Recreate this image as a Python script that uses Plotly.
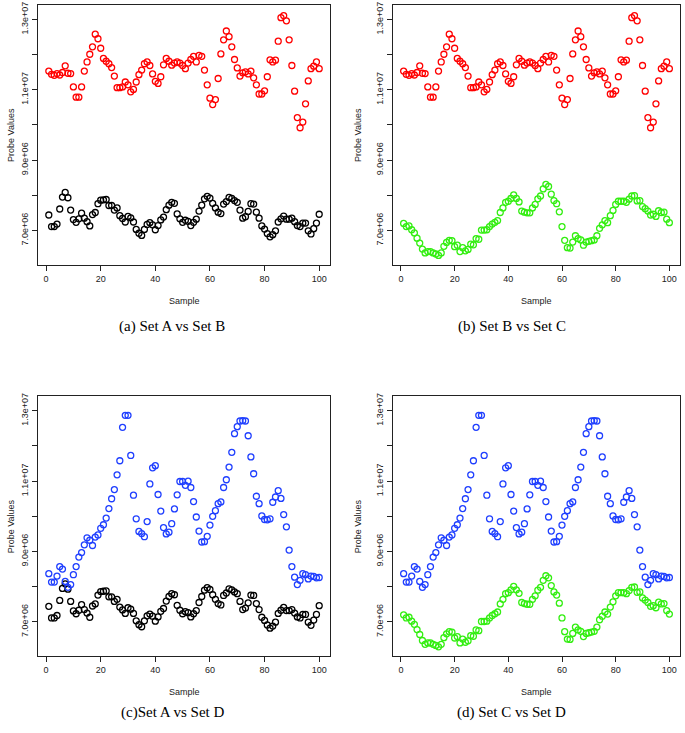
import plotly.graph_objects as go
from plotly.subplots import make_subplots

sample = list(range(1, 101))

set_a = [7.44, 7.11, 7.11, 7.18, 7.61, 7.95, 8.08, 7.93, 7.58, 7.31,
         7.23, 7.33, 7.49, 7.35, 7.25, 7.13, 7.45, 7.51, 7.76, 7.86,
         7.87, 7.88, 7.71, 7.71, 7.58, 7.64, 7.42, 7.34, 7.24, 7.40,
         7.36, 7.24, 7.03, 6.92, 6.86, 7.03, 7.17, 7.22, 7.16, 7.02,
         7.14, 7.30, 7.38, 7.59, 7.72, 7.80, 7.77, 7.47, 7.33, 7.23,
         7.29, 7.26, 7.14, 7.23, 7.32, 7.55, 7.72, 7.90, 7.97, 7.92,
         7.77, 7.64, 7.52, 7.48, 7.75, 7.82, 7.94, 7.91, 7.85, 7.80,
         7.58, 7.35, 7.39, 7.54, 7.76, 7.75, 7.52, 7.35, 7.13, 7.04,
         6.91, 6.82, 6.88, 6.99, 7.24, 7.33, 7.41, 7.32, 7.32, 7.35,
         7.25, 7.14, 7.11, 7.21, 7.21, 6.99, 6.90, 7.05, 7.21, 7.46]

set_b = [11.53, 11.44, 11.41, 11.46, 11.42, 11.49, 11.68, 11.47, 11.46, 11.08,
         10.79, 10.79, 11.08, 11.53, 11.79, 12.01, 12.22, 12.58, 12.45, 12.18,
         11.89, 11.81, 11.74, 11.63, 11.39, 11.06, 11.06, 11.08, 11.22, 11.14,
         10.94, 11.01, 11.22, 11.43, 11.56, 11.74, 11.79, 11.69, 11.45, 11.24,
         11.18, 11.37, 11.71, 11.89, 11.81, 11.70, 11.76, 11.79, 11.76, 11.69,
         11.60, 11.76, 11.86, 11.95, 11.79, 11.98, 11.95, 11.56, 11.14, 10.76,
         10.58, 10.72, 11.32, 12.02, 12.42, 12.67, 12.51, 12.22, 11.86, 11.62,
         11.39, 11.48, 11.51, 11.45, 11.53, 11.34, 11.14, 10.88, 10.88, 10.97,
         11.37, 11.85, 11.79, 11.84, 12.38, 13.05, 13.11, 12.96, 12.42, 11.69,
         10.96, 10.21, 9.92, 10.08, 10.60, 11.25, 11.60, 11.67, 11.79, 11.60]

set_c = [7.20, 7.11, 7.13, 7.02, 6.93, 6.78, 6.64, 6.47, 6.36, 6.40,
         6.40, 6.36, 6.33, 6.29, 6.36, 6.55, 6.66, 6.72, 6.71, 6.54,
         6.58, 6.40, 6.51, 6.42, 6.46, 6.61, 6.59, 6.77, 6.75, 7.01,
         7.01, 7.02, 7.11, 7.18, 7.23, 7.28, 7.51, 7.64, 7.80, 7.83,
         7.91, 8.01, 7.91, 7.81, 7.55, 7.52, 7.50, 7.50, 7.64, 7.74,
         7.90, 7.98, 8.18, 8.31, 8.25, 8.03, 7.85, 7.76, 7.53, 7.11,
         6.72, 6.51, 6.50, 6.67, 6.85, 6.77, 6.73, 6.58, 6.67, 6.69,
         6.71, 6.73, 6.85, 7.06, 7.16, 7.28, 7.22, 7.42, 7.57, 7.74,
         7.83, 7.83, 7.83, 7.80, 7.89, 7.98, 7.99, 7.84, 7.85, 7.68,
         7.62, 7.55, 7.44, 7.46, 7.40, 7.56, 7.51, 7.52, 7.32, 7.22]

set_d = [8.37, 8.13, 8.13, 8.30, 8.57, 8.50, 8.15, 7.98, 8.06, 8.34,
         8.57, 8.84, 8.97, 9.19, 9.39, 9.32, 9.17, 9.41, 9.47, 9.66,
         9.76, 9.95, 10.22, 10.50, 10.76, 11.18, 11.58, 12.53, 12.87, 12.87,
         11.73, 10.60, 9.93, 9.57, 9.51, 9.42, 9.85, 10.92, 11.38, 11.44,
         10.62, 10.15, 9.68, 9.50, 9.55, 9.79, 10.21, 10.61, 10.99, 10.99,
         10.88, 11.00, 10.82, 10.42, 9.98, 9.58, 9.27, 9.28, 9.43, 9.75,
         10.00, 10.16, 10.36, 10.41, 10.82, 11.04, 11.40, 11.82, 12.35, 12.55,
         12.71, 12.72, 12.71, 12.29, 11.69, 11.21, 10.57, 10.36, 10.01, 9.91,
         9.90, 9.93, 10.40, 10.55, 10.73, 10.51, 10.05, 9.70, 9.04, 8.57,
         8.27, 8.06, 8.18, 8.37, 8.34, 8.22, 8.30, 8.29, 8.25, 8.26]

scale = 1e6
set_a = [v * scale for v in set_a]
set_b = [v * scale for v in set_b]
set_c = [v * scale for v in set_c]
set_d = [v * scale for v in set_d]

ytick_vals = [7e6, 8e6, 9e6, 10e6, 11e6, 12e6, 13e6]
ytick_text = ["7.0e+06", "", "9.0e+06", "", "1.1e+07", "", "1.3e+07"]
xtick_vals = [0, 20, 40, 60, 80, 100]

captions = ["(a) Set A vs Set B", "(b) Set B vs Set C", "(c)Set A vs Set D", "(d) Set C vs Set D"]

panels = [
    [(set_a, "black"), (set_b, "#ff0000")],
    [(set_b, "#ff0000"), (set_c, "#33ee11")],
    [(set_a, "black"), (set_d, "#1f3fff")],
    [(set_c, "#33ee11"), (set_d, "#1f3fff")],
]

W, H = 685, 733


def px(x):
    return x / W


def py(y):
    return 1 - y / H


fig = make_subplots(rows=2, cols=2)

xdom = [(px(38), px(330)), (px(393), px(680))]
ydom = [(py(263), py(2)), (py(656), py(395))]

positions = [(1, 1), (1, 2), (2, 1), (2, 2)]
for i, (r, c) in enumerate(positions):
    for vals, col in panels[i]:
        fig.add_trace(go.Scatter(
            x=sample, y=vals, mode="markers",
            marker=dict(symbol="circle-open", size=6, color=col, line=dict(width=1.3, color=col)),
            showlegend=False, hoverinfo="skip", cliponaxis=False), row=r, col=c)

axis_font = dict(family="Liberation Sans, Arial, sans-serif", size=9, color="#222")
for i, (r, c) in enumerate(positions):
    fig.update_xaxes(row=r, col=c, domain=list(xdom[c - 1]), range=[-2.96, 103.96],
                     tickvals=xtick_vals, ticks="outside", ticklen=5, tickwidth=1,
                     tickcolor="#222", showline=True, linecolor="#222", linewidth=1,
                     mirror=True, showgrid=False, zeroline=False, tickfont=axis_font)
    fig.update_yaxes(row=r, col=c, domain=list(ydom[r - 1]), range=[6.02e6, 13.41e6],
                     tickvals=ytick_vals, ticktext=ytick_text, ticks="outside", ticklen=5,
                     tickwidth=1, tickcolor="#222", showline=True, linecolor="#222",
                     linewidth=1, mirror=True, showgrid=False, zeroline=False,
                     tickangle=-90, tickfont=axis_font)

annotations = []
for i, (r, c) in enumerate(positions):
    x0, x1 = xdom[c - 1]
    y0, y1 = ydom[r - 1]
    xc = (x0 + x1) / 2
    sample_y = 299 if r == 1 else 692
    annotations.append(dict(text="Sample", x=xc, y=py(sample_y), xref="paper", yref="paper",
                            showarrow=False, font=dict(family="Liberation Sans, Arial, sans-serif", size=9, color="#222"),
                            xanchor="center", yanchor="middle"))
    pv_x = 11 if c == 1 else 358
    annotations.append(dict(text="Probe Values", x=px(pv_x), y=(y0 + y1) / 2, xref="paper", yref="paper",
                            showarrow=False, textangle=-90,
                            font=dict(family="Liberation Sans, Arial, sans-serif", size=9, color="#222"),
                            xanchor="center", yanchor="middle"))
    cap_y = 325 if r == 1 else 712
    cap_x = 172 if c == 1 else 512
    annotations.append(dict(text=captions[i], x=px(cap_x), y=py(cap_y), xref="paper", yref="paper",
                            showarrow=False, font=dict(family="Liberation Serif, Times New Roman, serif", size=15, color="black"),
                            xanchor="center", yanchor="middle"))

fig.update_layout(width=W, height=H, margin=dict(l=0, r=0, t=0, b=0),
                  paper_bgcolor="white", plot_bgcolor="white", annotations=annotations)

fig.write_html("out.html", config={"displayModeBar": False},
               post_script="document.body.style.margin='0';document.body.style.overflow='hidden';")
